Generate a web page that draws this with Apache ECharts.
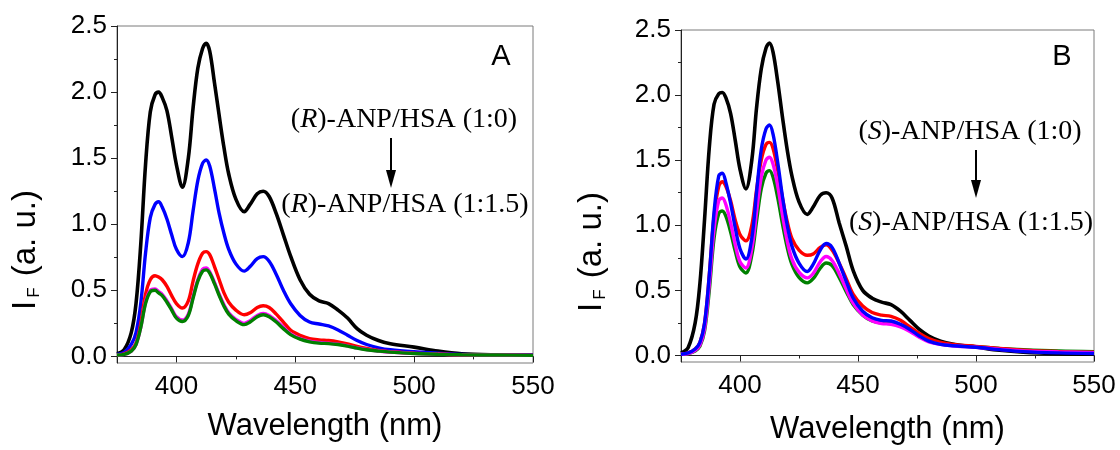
<!DOCTYPE html>
<html>
<head>
<meta charset="utf-8">
<script src="https://cdn.jsdelivr.net/npm/echarts@6/dist/echarts.min.js"></script>
<style>html,body{margin:0;padding:0;background:#fff;}#c{width:1120px;height:450px;}</style>
</head>
<body>
<div id="c"></div>
<script>
// Wavelength grid (nm)
const wl = [375, 378, 381, 383, 385, 387, 389, 391, 392.5, 394, 396, 398, 400, 402.5, 405, 407, 409, 411, 412.5, 414, 416, 418, 420, 422, 425, 428.5, 431, 434, 436.5, 439, 442, 445, 448, 452, 456, 460, 464, 468, 472, 476, 480, 485, 490, 500, 510, 520, 535, 550];

// Panel A: (R)-ANP/HSA
const aBlack = [0.02,0.05,0.18,0.40,0.85,1.45,1.85,1.98,2.00,1.96,1.86,1.66,1.45,1.28,1.50,1.88,2.18,2.33,2.37,2.31,2.07,1.82,1.58,1.38,1.19,1.095,1.15,1.23,1.25,1.21,1.08,0.92,0.76,0.58,0.47,0.42,0.40,0.35,0.29,0.21,0.16,0.12,0.095,0.07,0.04,0.02,0.012,0.01];
const aBlue = [0.015,0.03,0.09,0.18,0.40,0.78,1.05,1.15,1.17,1.13,1.04,0.92,0.81,0.755,0.86,1.10,1.33,1.46,1.486,1.44,1.27,1.08,0.93,0.81,0.70,0.645,0.68,0.74,0.755,0.72,0.62,0.50,0.40,0.31,0.26,0.245,0.23,0.20,0.16,0.12,0.09,0.065,0.05,0.035,0.025,0.015,0.012,0.01];
const aRed = [0.01,0.02,0.05,0.10,0.25,0.47,0.58,0.61,0.60,0.58,0.53,0.46,0.40,0.366,0.42,0.57,0.70,0.78,0.793,0.77,0.68,0.58,0.48,0.41,0.35,0.315,0.33,0.37,0.383,0.37,0.32,0.26,0.20,0.16,0.135,0.125,0.12,0.11,0.095,0.075,0.06,0.045,0.035,0.025,0.018,0.012,0.01,0.008];
const aMagenta = [0.01,0.015,0.04,0.09,0.22,0.41,0.50,0.51,0.49,0.47,0.42,0.36,0.30,0.275,0.32,0.45,0.58,0.66,0.67,0.64,0.56,0.47,0.39,0.33,0.28,0.25,0.27,0.31,0.325,0.31,0.27,0.22,0.17,0.135,0.115,0.105,0.10,0.093,0.08,0.064,0.052,0.041,0.033,0.023,0.017,0.012,0.01,0.008];
const aGreen = [0.01,0.015,0.04,0.09,0.22,0.40,0.49,0.50,0.48,0.46,0.41,0.35,0.29,0.264,0.31,0.44,0.57,0.645,0.655,0.63,0.55,0.46,0.38,0.32,0.27,0.24,0.26,0.30,0.315,0.30,0.26,0.21,0.165,0.13,0.11,0.10,0.097,0.09,0.078,0.062,0.05,0.04,0.032,0.022,0.016,0.012,0.01,0.008];

// Panel B: (S)-ANP/HSA
const bBlack = [0.02,0.06,0.25,0.55,1.05,1.60,1.93,2.01,2.02,1.98,1.86,1.65,1.43,1.28,1.50,1.90,2.20,2.36,2.40,2.33,2.10,1.83,1.58,1.38,1.18,1.084,1.14,1.23,1.25,1.21,1.02,0.84,0.65,0.50,0.44,0.41,0.39,0.34,0.27,0.20,0.15,0.11,0.088,0.065,0.04,0.025,0.014,0.01];
const bBlue = [0.01,0.02,0.05,0.10,0.25,0.62,1.10,1.38,1.40,1.33,1.17,0.98,0.82,0.74,0.90,1.25,1.58,1.74,1.77,1.70,1.48,1.22,1.00,0.84,0.71,0.645,0.70,0.81,0.86,0.83,0.71,0.57,0.44,0.34,0.29,0.27,0.265,0.24,0.20,0.15,0.11,0.085,0.075,0.063,0.045,0.03,0.02,0.015];
const bRed = [0.01,0.02,0.05,0.10,0.25,0.62,1.07,1.30,1.335,1.30,1.19,1.04,0.93,0.88,1.00,1.27,1.50,1.62,1.637,1.59,1.42,1.21,1.03,0.90,0.81,0.77,0.78,0.83,0.85,0.81,0.71,0.59,0.47,0.38,0.33,0.31,0.30,0.27,0.22,0.17,0.13,0.10,0.085,0.07,0.055,0.04,0.03,0.025];
const bMagenta = [0.01,0.015,0.04,0.08,0.21,0.55,0.97,1.19,1.21,1.16,1.02,0.85,0.72,0.672,0.82,1.10,1.37,1.50,1.523,1.47,1.30,1.08,0.88,0.74,0.64,0.596,0.63,0.72,0.76,0.73,0.63,0.51,0.40,0.31,0.265,0.245,0.24,0.22,0.185,0.14,0.105,0.085,0.075,0.063,0.048,0.035,0.027,0.022];
const bGreen = [0.01,0.015,0.035,0.07,0.19,0.50,0.90,1.09,1.11,1.07,0.95,0.80,0.68,0.634,0.77,1.03,1.28,1.40,1.42,1.37,1.21,1.01,0.83,0.70,0.60,0.558,0.59,0.67,0.71,0.69,0.60,0.49,0.39,0.31,0.265,0.25,0.245,0.225,0.19,0.145,0.11,0.09,0.08,0.068,0.055,0.045,0.035,0.03];

// Axis ticks / labels
const xMajor = [400, 450, 500, 550];
const xMinor = [375, 425, 475, 525];
const yMajor = [0, 0.5, 1.0, 1.5, 2.0, 2.5];
const yMinor = [0.25, 0.75, 1.25, 1.75, 2.25];

const SANS = 'Liberation Sans, Arial, sans-serif';
const SERIF = 'Liberation Serif, Times New Roman, serif';

function pairs(vals){ return wl.map((x,i)=>[x, vals[i]]); }

const grids = [
  {left: 117, top: 26, width: 416, height: 337},
  {left: 681, top: 30, width: 413, height: 337}
];
const xNameGap = [48, 52];

function xAxes(gi){
  return [
    {type:'value', gridIndex: gi, min:375, max:550, position:'bottom',
     axisLine:{show:true, lineStyle:{color:'#222', width:1}},
     axisTick:{show:true, customValues:xMajor, length:6, lineStyle:{color:'#222'}},
     axisLabel:{customValues:xMajor, fontFamily:SANS, fontSize:26, color:'#000', margin:11, formatter: v => String(v)},
     splitLine:{show:false},
     name:'Wavelength (nm)', nameLocation:'middle', nameGap:xNameGap[gi],
     nameTextStyle:{fontFamily:SANS, fontSize:31, color:'#000'}},
    {type:'value', gridIndex: gi, min:375, max:550, position:'bottom',
     axisLine:{show:false}, axisTick:{show:true, customValues:xMinor, length:3, lineStyle:{color:'#222'}},
     axisLabel:{show:false}, splitLine:{show:false}}
  ];
}
function yAxes(gi){
  return [
    {type:'value', gridIndex: gi, min:-0.05, max:2.5, position:'left',
     axisLine:{show:true, lineStyle:{color:'#222', width:1}},
     axisTick:{show:true, customValues:yMajor, length:6, lineStyle:{color:'#222'}},
     axisLabel:{customValues:yMajor, fontFamily:SANS, fontSize:26, color:'#000', margin:10, formatter: v => v.toFixed(1)},
     splitLine:{show:false}},
    {type:'value', gridIndex: gi, min:-0.05, max:2.5, position:'left',
     axisLine:{show:false}, axisTick:{show:true, customValues:yMinor, length:3, lineStyle:{color:'#222'}},
     axisLabel:{show:false}, splitLine:{show:false}}
  ];
}

function line(name, vals, color, xi, yi, w){
  return {name, type:'line', xAxisIndex:xi, yAxisIndex:yi, data:pairs(vals), showSymbol:false,
          smooth:0.35, lineStyle:{color, width:w||3.4}, itemStyle:{color}, z:3, silent:true};
}

const series = [
  line('A1', aBlack, '#000000', 0, 0, 3.6),
  line('A2', aBlue, '#0000ff', 0, 0),
  line('A3', aRed, '#ff0000', 0, 0),
  line('A4', aMagenta, '#ff00ff', 0, 0),
  line('A5', aGreen, '#008000', 0, 0),
  line('B1', bBlack, '#000000', 2, 2, 3.6),
  line('B5', bGreen, '#008000', 2, 2),
  line('B3', bRed, '#ff0000', 2, 2),
  line('B4', bMagenta, '#ff00ff', 2, 2),
  line('B2', bBlue, '#0000ff', 2, 2)
];

function yTitle(x, y){
  return {type:'text', x:x, y:y, rotation:Math.PI/2,
    style:{text:'{i|I}{s|F}{n| (a. u.)}', align:'center', verticalAlign:'middle',
      rich:{i:{fontFamily:SANS, fontSize:33, fill:'#000'},
            s:{fontFamily:SANS, fontSize:17, fill:'#000', padding:[16,2,0,3]},
            n:{fontFamily:SANS, fontSize:33, fill:'#000'}}}};
}

function annot(letter, x1, y1, x2, y2, ax, ay1, ay2){
  const rich = {n:{fontFamily:SERIF, fontSize:28, fill:'#000'}, i:{fontFamily:SERIF, fontSize:28, fontStyle:'italic', fill:'#000'}};
  return [
    {type:'text', x:x1, y:y1, style:{text:'{n|(}{i|'+letter+'}{n|)-ANP/HSA (1:0)}', align:'center', verticalAlign:'middle', rich}},
    {type:'text', x:x2, y:y2, style:{text:'{n|(}{i|'+letter+'}{n|)-ANP/HSA (1:1.5)}', align:'center', verticalAlign:'middle', rich}},
    {type:'line', shape:{x1:ax, y1:ay1, x2:ax, y2:ay2-16}, style:{stroke:'#000', lineWidth:2}},
    {type:'polygon', shape:{points:[[ax-5, ay2-18],[ax+5, ay2-18],[ax, ay2]]}, style:{fill:'#000'}}
  ];
}

const option = {
  backgroundColor:'#fff',
  animation:false,
  grid: grids.map(g => Object.assign({show:true, borderColor:'#7a7a7a', borderWidth:1, backgroundColor:'transparent'}, g)),
  xAxis: xAxes(0).concat(xAxes(1)),
  yAxis: yAxes(0).concat(yAxes(1)),
  series,
  graphic: [
    {type:'text', x:501, y:57, style:{text:'A', fontFamily:SANS, fontSize:29, fill:'#000', align:'center', verticalAlign:'middle'}},
    {type:'text', x:1062, y:57, style:{text:'B', fontFamily:SANS, fontSize:29, fill:'#000', align:'center', verticalAlign:'middle'}},
    yTitle(26, 250),
    yTitle(592, 252)
  ].concat(annot('R', 404, 120, 405, 205, 391, 138, 188))
   .concat(annot('S', 970, 132, 971, 223, 976, 150, 198))
};

const chart = echarts.init(document.getElementById('c'), null, {renderer:'canvas'});
chart.setOption(option);
</script>
</body>
</html>
